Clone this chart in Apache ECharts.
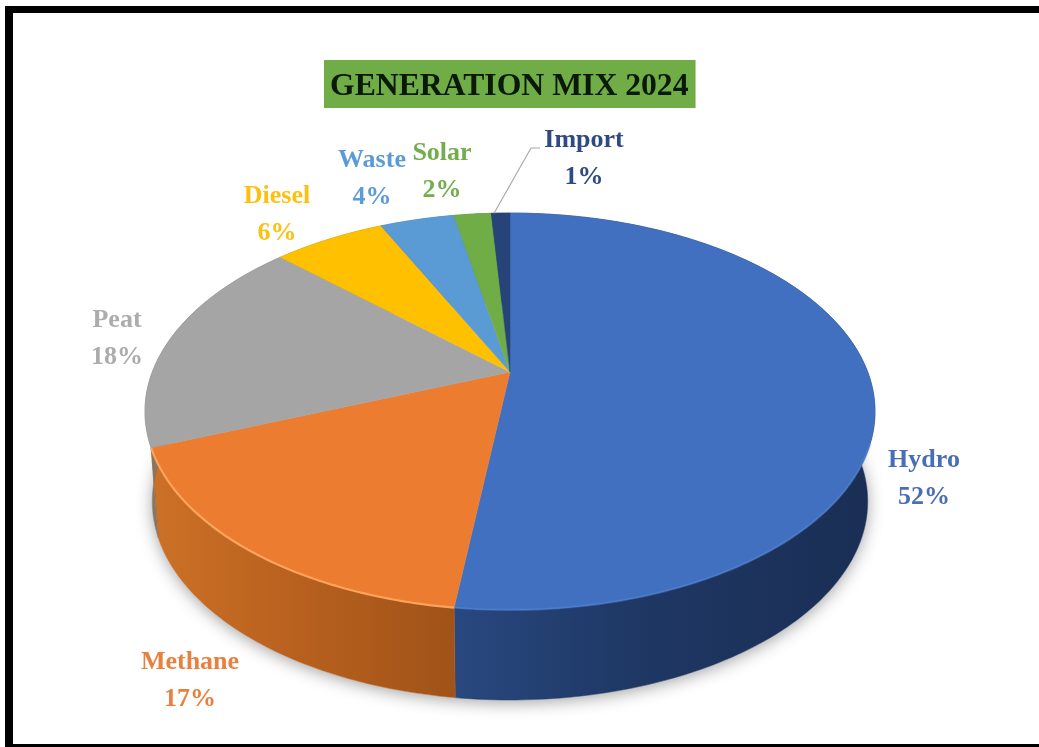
<!DOCTYPE html>
<html>
<head>
<meta charset="utf-8">
<style>html,body{margin:0;padding:0;background:#fff}#chart{width:1039px;height:747px}</style>
<script src="https://cdn.jsdelivr.net/npm/echarts@6/dist/echarts.min.js"></script>
</head>
<body>
<div id="chart"></div>
<script>
// Generation shares, percent of total, clockwise from twelve o'clock
const categories = ['Hydro', 'Methane', 'Peat', 'Diesel', 'Waste', 'Solar', 'Import'];
const shares = [52, 17, 18, 6, 4, 2, 1];
const faceColors = ['#4170c0', '#ec7c30', '#a5a5a5', '#ffc000', '#5a9ad5', '#70ad47', '#264478'];
const labelColors = ['#4a6db8', '#e8803f', '#acacac', '#fcc010', '#5c9bd6', '#73ad4e', '#2f4a83'];
const labelCentres = [[924, 479], [190, 681], [117, 339], [277, 215], [372, 179], [442, 172], [584, 159]];

// Side wall gradients, lit from the left of the disc
const wallStops = [
  ['#28487f', '#1e3763', '#1a2e54'],
  ['#cc7126', '#b9611f', '#a05318'],
  ['#8c7560', '#84725f', '#7f6f5f'],
  ['#a67c00', '#a67c00', '#a67c00'],
  ['#3d6e9c', '#3d6e9c', '#3d6e9c'],
  ['#4f7a32', '#4f7a32', '#4f7a32'],
  ['#1b3057', '#1b3057', '#1b3057']
];
const rimColors = ['rgba(90,140,225,0.4)', 'rgba(255,165,95,0.95)', null, null, null, null, null];

// Perspective view of the disc: a circle seen from above and in front
const apex = { x: 510, y: 372 };
const tilt = 0.199, spreadX = 357.7, spreadY = 190.6;
const wallDepth = 90, wallShrink = 0.98;
const frontRimFrom = apex.y + 70;
const total = shares.reduce((a, b) => a + b, 0);
const starts = shares.map((_, i) => shares.slice(0, i).reduce((a, b) => a + b, 0) / total);

function rimPoint(fraction) {
  const t = fraction * Math.PI * 2;
  const u = Math.sin(t), v = -Math.cos(t), w = 1 - tilt * v;
  return [apex.x + spreadX * u / w, apex.y + spreadY * v / w];
}
function basePoint(p) {
  return [apex.x + (p[0] - apex.x) * wallShrink, p[1] + wallDepth];
}
function arcPoints(from, to) {
  const n = Math.max(4, Math.ceil((to - from) * 360));
  const pts = [];
  for (let k = 0; k <= n; k++) pts.push(rimPoint(from + (to - from) * k / n));
  return pts;
}
function sliceArc(i) {
  return arcPoints(starts[i], starts[i] + shares[i] / total);
}

const chart = echarts.init(document.getElementById('chart'), null, { renderer: 'canvas' });
const rows = shares.map((s, i) => [i, s]);

chart.setOption({
  animation: false,
  backgroundColor: '#ffffff',
  title: {
    text: 'GENERATION MIX 2024',
    left: 324,
    top: 60,
    padding: [9, 7, 3, 6],
    backgroundColor: '#70ad47',
    textStyle: {
      fontFamily: 'Liberation Serif',
      fontWeight: 'bold',
      fontSize: 31.7,
      lineHeight: 36,
      color: '#0b1a08'
    }
  },
  graphic: [
    { type: 'rect', shape: { x: 5, y: 6, width: 1034, height: 7 }, style: { fill: '#000' } },
    { type: 'rect', shape: { x: 5, y: 6, width: 8, height: 741 }, style: { fill: '#000' } },
    { type: 'rect', shape: { x: 5, y: 744, width: 1034, height: 3 }, style: { fill: '#000' } }
  ],
  series: [
    {
      // Soft ground shadow cast by the base of the disc
      type: 'custom',
      coordinateSystem: 'none',
      silent: true,
      z: 1,
      data: [[0]],
      renderItem() {
        return {
          type: 'polygon',
          shape: { points: arcPoints(0, 1).map(basePoint) },
          style: {
            fill: '#ffffff',
            shadowColor: 'rgba(40,40,40,0.42)',
            shadowBlur: 16,
            shadowOffsetY: 3
          }
        };
      }
    },
    {
      // Outer walls, one band per slice
      type: 'custom',
      coordinateSystem: 'none',
      silent: true,
      z: 2,
      data: rows,
      renderItem(params, api) {
        const i = api.value(0);
        const top = sliceArc(i);
        const stops = wallStops[i];
        return {
          type: 'polygon',
          shape: { points: top.concat(top.map(basePoint).reverse()) },
          style: {
            fill: new echarts.graphic.LinearGradient(0, 0, 1, 0, [
              { offset: 0, color: stops[0] },
              { offset: 0.45, color: stops[1] },
              { offset: 1, color: stops[2] }
            ]),
            stroke: stops[1],
            lineWidth: 0.5
          }
        };
      }
    },
    {
      // Top faces, front rim highlights, leader line and value labels
      type: 'custom',
      coordinateSystem: 'none',
      silent: true,
      z: 3,
      data: rows,
      renderItem(params, api) {
        const i = api.value(0);
        const arc = sliceArc(i);
        const children = [{
          type: 'polygon',
          shape: { points: [[apex.x, apex.y]].concat(arc) },
          style: { fill: faceColors[i], stroke: faceColors[i], lineWidth: 0.5 }
        }];
        if (rimColors[i]) {
          children.push({
            type: 'polyline',
            shape: { points: arc.filter(p => p[1] > frontRimFrom) },
            style: { fill: 'none', stroke: rimColors[i], lineWidth: 2.2 }
          });
        }
        if (categories[i] === 'Import') {
          const end = rimPoint(starts[i] - 0.001 + shares[i] / total / 4);
          children.push({
            type: 'polyline',
            shape: { points: [[540, 148], [531, 148], end] },
            style: { fill: 'none', stroke: '#a9a9a9', lineWidth: 1.2 }
          });
        }
        children.push({
          type: 'text',
          style: {
            text: categories[i] + '\n' + api.value(1) + '%',
            x: labelCentres[i][0],
            y: labelCentres[i][1],
            align: 'center',
            verticalAlign: 'middle',
            lineHeight: 37,
            font: 'bold 26px "Liberation Serif"',
            fill: labelColors[i]
          }
        });
        return { type: 'group', children };
      }
    }
  ]
});
</script>
</body>
</html>
